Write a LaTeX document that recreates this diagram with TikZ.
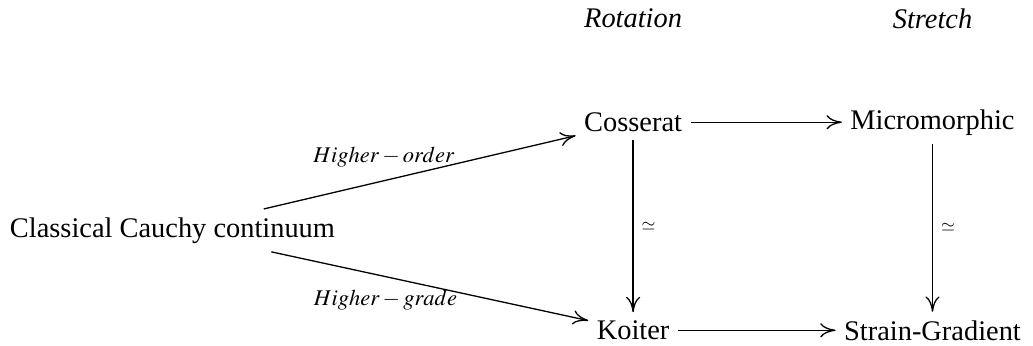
\documentclass[tikz,border=0pt]{standalone}
\usepackage{mathptmx}
\usepackage{fontspec}
\setmainfont{Liberation Serif}
\usetikzlibrary{positioning,arrows.meta}

\begin{document}
\begin{tikzpicture}[on grid, font=\fontsize{12}{14.4}\selectfont,
    line width=0.55pt, >={To[length=6.5pt,width=6pt]},
    lab/.style={font=\fontsize{9.5}{11}\selectfont},
    iso/.style={font=\fontsize{7.5}{8}\selectfont}]
  \useasboundingbox (-72.88pt,-48.42pt) rectangle (363.56pt,97.34pt);
  \node (cl) at (0,0) {Classical Cauchy continuum};
  \node (cos) [above right=45.7pt and 194.6pt of cl] {Cosserat};
  \node (koi) [below=87.9pt of cos] {Koiter};
  \node (mic) [base right=126.5pt of cos] {Micromorphic};
  \node (sg) [base right=126.5pt of koi] {Strain-Gradient};
  \node (rot) [above=43.8pt of cos] {\textit{Rotation}};
  \node (str) [base right=126.5pt of rot] {\textit{Stretch}};
  \draw[->] (cl) -- node[lab, above=2.3pt, pos=.385] {$Higher-order$} (cos);
  \draw[->] (cl) -- node[lab, below=2pt, pos=.36] {$Higher-grade$} (koi);
  \draw[->] (cos) -- (cos -| mic.west);
  \draw[->] (koi) -- (koi -| sg.west);
  \draw[->] (cos) -- node[iso, right] {$\simeq$} (koi);
  \draw[->] (mic) -- node[iso, right] {$\simeq$} (sg);
\end{tikzpicture}
\end{document}
